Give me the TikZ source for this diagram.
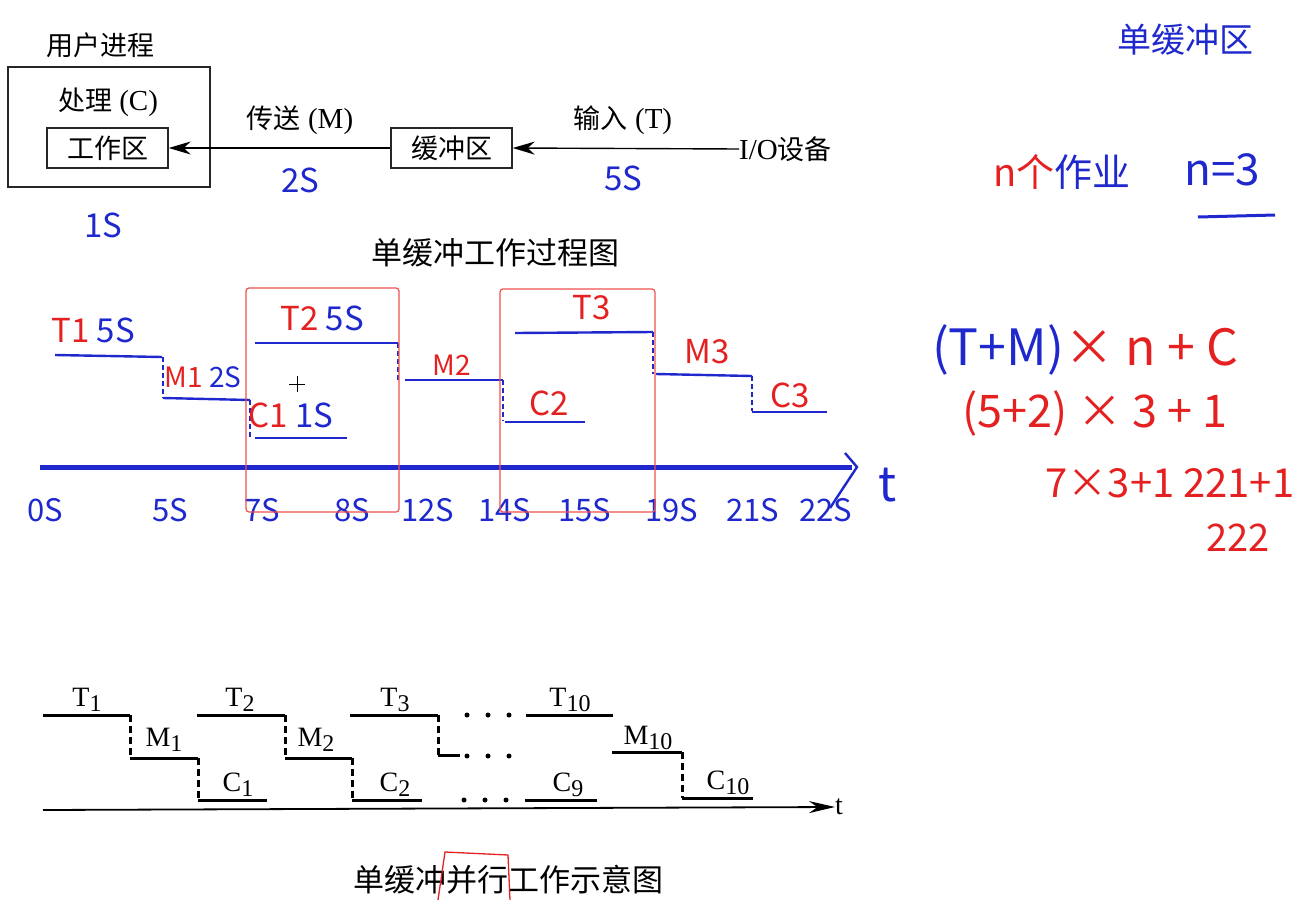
\documentclass[tikz,border=0pt]{standalone}
\usepackage{fontspec}
\setmainfont{Liberation Serif}
\newfontfamily\cjk{Noto Sans CJK SC}
\usetikzlibrary{arrows.meta}
\definecolor{handblue}{RGB}{30,40,205}
\definecolor{handred}{RGB}{228,32,32}
\definecolor{boxred}{RGB}{240,80,80}
\newcommand\lo[1]{\raisebox{-5pt}{\fontsize{24}{24}\selectfont#1}}

\begin{document}
\begin{tikzpicture}[x=1pt,y=-1pt,
  txt/.style={font=\fontsize{29}{32}\selectfont, inner sep=0pt},
  zh/.style={font=\cjk\fontsize{27}{30}\selectfont, inner sep=0pt},
  frame/.style={draw=black!85, line width=1.4pt},
  flow/.style={line width=1.4pt, -{Stealth[length=22pt,width=13pt,inset=7pt]}},
  hb/.style={text=handblue, font=\cjk\fontsize{33}{35}\selectfont, inner sep=0pt},
  hr/.style={text=handred, font=\cjk\fontsize{33}{35}\selectfont, inner sep=0pt},
  hline/.style={handblue, line width=2.4pt},
  hdash/.style={handblue, line width=1.6pt, dash pattern=on 5pt off 3pt},
  redbox/.style={draw=boxred, line width=1.2pt, rounded corners=3pt},
  lbl/.style={font=\fontsize{28}{30}\selectfont, inner sep=0pt},
  stepline/.style={line width=3pt},
  dashline/.style={line width=3pt, dash pattern=on 7pt off 4pt},
]
\useasboundingbox (0,0) rectangle (1310,900);

% user process, buffer and device
\node[zh] (user) at (100,45) {用户进程};
\node[frame, minimum width=202pt, minimum height=120pt] (proc) at (109,127) {};
\node[txt] (cproc) at (108,102) {{\cjk\fontsize{27}{30}\selectfont 处理} (C)};
\node[frame, zh, minimum width=121pt, minimum height=40pt] (work) at (107.5,148) {工作区};
\node[frame, zh, minimum width=121pt, minimum height=40pt] (buf) at (451.5,148) {缓冲区};
\node[txt, anchor=west] (io) at (739,149) {I/O{\cjk\fontsize{27}{30}\selectfont 设备}};
\draw[flow] (buf.west) -- (work.east);
\draw[flow] (io.west) -- (buf.east);
\node[txt] (mlbl) at (300,120) {{\cjk\fontsize{27}{30}\selectfont 传送} (M)};
\node[txt] (tlbl) at (623,120) {{\cjk\fontsize{27}{30}\selectfont 输入} (T)};
\node[hb] (m2s) at (300,180) {2S};
\node[hb] (t5s) at (623,178) {5S};
\node[hb] (c1s) at (103,225) {1S};
\node[zh, font=\cjk\fontsize{31}{34}\selectfont] (title1) at (495,253) {单缓冲工作过程图};

% notes on the right
\node[hb, font=\cjk\fontsize{34}{36}\selectfont] (note) at (1185,40) {单缓冲区};
\node[hb, font=\cjk\fontsize{38}{40}\selectfont] (jobs) at (1062,172) {{\color{handred}n个}作业};
\node[hb, font=\cjk\fontsize{44}{46}\selectfont] (nval) at (1222,170) {n=3};
\draw[hline, line width=3pt] (1198,217) -- (1275,215);
\node[hb, font=\cjk\fontsize{50}{52}\selectfont] (f1) at (1085,350) {(T+M){\color{handred} × n + C}};
\node[hr, font=\cjk\fontsize{45}{47}\selectfont] (f2) at (1095,413) {(5+2) × 3 + 1};
\node[hr, font=\cjk\fontsize{40}{42}\selectfont] (f3) at (1170,483) {7×3+1 221+1};
\node[hr, font=\cjk\fontsize{38}{40}\selectfont] (f4) at (1238,538) {222};

% handwritten time line
\draw[hline] (55,355) -- (162,357);
\draw[hdash] (163,357) -- (163,398);
\draw[hline] (163,398) -- (250,400);
\draw[hdash] (250,400) -- (250,438);
\draw[hline] (255,438) -- (347,438);
\draw[hline] (255,343) -- (398,343);
\draw[hdash] (398,343) -- (398,380);
\draw[hline] (405,380) -- (503,380);
\draw[hdash] (503,380) -- (503,421);
\draw[hline] (505,422) -- (585,422);
\draw[hline] (515,333) -- (653,332);
\draw[hdash] (653,332) -- (653,374);
\draw[hline] (656,374) -- (752,376);
\draw[hdash] (752,376) -- (752,411);
\draw[hline] (752,412) -- (827,412);
\node[hb] (lt1) at (93,330) {{\color{handred}T1} 5S};
\node[hb, font=\cjk\fontsize{28}{30}\selectfont] (lm1) at (203,377) {{\color{handred}M1} 2S};
\node[hb] (lc1) at (291,415) {{\color{handred}C1} 1S};
\node[hb] (lt2) at (322,318) {{\color{handred}T2} 5S};
\node[hr, font=\cjk\fontsize{28}{30}\selectfont] (lm2) at (452,365) {M2};
\node[hr] (lc2) at (549,403) {C2};
\node[hr] (lt3) at (592,308) {T3};
\node[hr] (lm3) at (707,352) {M3};
\node[hr] (lc3) at (790,395) {C3};
\draw[handblue, line width=5pt] (40,467) -- (852,467);
\draw[handblue, line width=2.4pt] (845,453) -- (857,467) -- (830,508);
\node[hb, font=\cjk\fontsize{48}{50}\selectfont] (tax) at (888,485) {t};
\foreach \x/\s in {45/0S,170/5S,262/7S,352/8S,428/12S,505/14S,585/15S,672/19S,753/21S,826/22S}
  \node[hb, font=\cjk\fontsize{31}{33}\selectfont] (tk-\x) at (\x,510) {\s};
\draw[redbox] (246,288) rectangle (399,512);
\draw[redbox] (500,289) rectangle (655,512);
\draw[line width=0.8pt] (289,384) -- (305,384) (297,376) -- (297,392);

% parallel working of the single buffer
\draw[stepline] (43,715) -- (130,715);
\draw[dashline] (130,715) -- (130,758);
\draw[stepline] (130,758) -- (198,758);
\draw[dashline] (198,758) -- (198,800);
\draw[stepline] (198,800) -- (267,800);
\draw[stepline] (197,715) -- (285,715);
\draw[dashline] (285,715) -- (285,758);
\draw[stepline] (285,758) -- (352,758);
\draw[dashline] (352,758) -- (352,800);
\draw[stepline] (352,800) -- (422,800);
\draw[stepline] (350,715) -- (438,715);
\draw[dashline] (438,715) -- (438,755);
\draw[stepline] (438,755) -- (460,755);
\foreach \x in {467,488,509} {
  \fill (\x,715) circle (2.5);
  \fill (\x,756) circle (2.5);
  \fill (\x-3,800) circle (2.5);
}
\draw[stepline] (526,715) -- (613,715);
\draw[stepline] (525,800) -- (597,800);
\draw[stepline] (612,752) -- (682,752);
\draw[dashline] (682,752) -- (682,798);
\draw[stepline] (682,798) -- (753,798);
\node[lbl] (t1) at (87,700) {T\lo{1}};
\node[lbl] (m1) at (164,740) {M\lo{1}};
\node[lbl] (c1) at (238,785) {C\lo{1}};
\node[lbl] (t2) at (240,700) {T\lo{2}};
\node[lbl] (m2) at (316,740) {M\lo{2}};
\node[lbl] (c2) at (395,785) {C\lo{2}};
\node[lbl] (t3) at (395,700) {T\lo{3}};
\node[lbl] (t10) at (570,700) {T\lo{10}};
\node[lbl] (c9) at (568,785) {C\lo{9}};
\node[lbl] (m10) at (648,738) {M\lo{10}};
\node[lbl] (c10) at (728,783) {C\lo{10}};
\coordinate (ax0) at (43,810);
\node[lbl, anchor=west] (tb) at (835,807) {t};
\draw[line width=1.8pt, -{Stealth[length=26pt,width=12pt]}] (ax0) -- (tb.west);
\node[zh, font=\cjk\fontsize{31}{34}\selectfont] (title2) at (508,880) {单缓冲并行工作示意图};
\draw[handred, line width=1.3pt] (438,900) -- (445,852) -- (508,855) -- (510,900);
\end{tikzpicture}
\end{document}
